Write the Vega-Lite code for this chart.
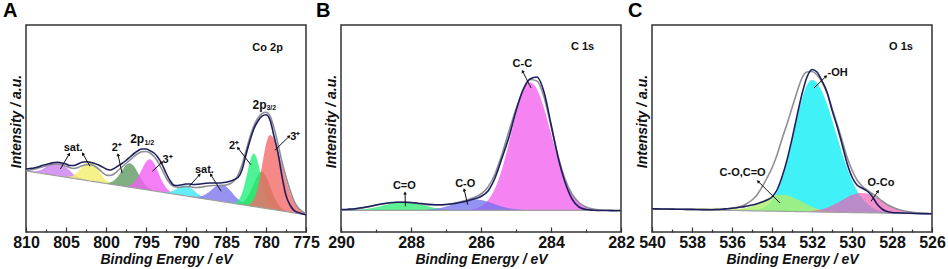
{
"$schema": "https://vega.github.io/schema/vega-lite/v6.json",
"background": "white",
"padding": {"left": 2, "top": 0, "right": 0, "bottom": 0},
"config": {"view": {"stroke": "#333333", "strokeWidth": 1.5}, "font": "Liberation Sans", "axis": {"grid": false},
 "axisX": {"labelPadding": 7, "titlePadding": 0},
 "axisY": {"ticks": false, "labels": false, "domain": false, "grid": false, "titleFontSize": 14, "titleFontWeight": "bold", "titleFontStyle": "italic", "titleColor": "#111111", "titlePadding": 3, "titleY": 96}},
"datasets": {
"a": [
{"x":810,"bg":61.0,"raw":63,"fit":61.5,"vi":61.1},
{"x":809.5,"bg":60.4,"raw":63.5,"fit":62,"vi":60.7},
{"x":809,"bg":59.8,"raw":64,"fit":62.8,"vi":60.7},
{"x":808.5,"bg":59.2,"raw":65,"fit":63.8,"vi":61.2},
{"x":808,"bg":58.5,"raw":66.5,"fit":65,"vi":62.6},
{"x":807.5,"bg":57.9,"raw":67.5,"fit":66,"vi":64.9},
{"x":807,"bg":57.3,"raw":68.5,"fit":67,"vi":67.6},
{"x":806.5,"bg":56.7,"raw":69.5,"fit":67.8,"vi":69.7},
{"x":806,"bg":56.0,"raw":69.7,"fit":68,"vi":70.0},
{"x":805.5,"bg":55.4,"raw":69,"fit":67.3,"vi":68.4,"ye":55.5},
{"x":805,"bg":54.8,"raw":68,"fit":65.8,"vi":65.1,"ye":55.2},
{"x":804.5,"bg":54.2,"raw":66.5,"fit":64.2,"vi":61.2,"ye":55.5},
{"x":804,"bg":53.5,"raw":66.5,"fit":63.5,"vi":57.6,"ye":56.9},
{"x":803.5,"bg":52.9,"raw":68,"fit":64.5,"vi":54.9,"ye":60.3},
{"x":803,"bg":52.3,"raw":69.8,"fit":66.2,"vi":53.2,"ye":65.1},
{"x":802.5,"bg":51.7,"raw":70.2,"fit":67.3,"vi":52.0,"ye":69.6},
{"x":802,"bg":51.0,"raw":69.8,"fit":67.5,"vi":51.1,"ye":71.0},
{"x":801.5,"bg":50.4,"raw":68.8,"fit":66.2,"ye":68.3},
{"x":801,"bg":49.8,"raw":67.2,"fit":63.5,"ye":62.6},
{"x":800.5,"bg":49.2,"raw":65.3,"fit":60,"ye":56.6,"gg":49.3},
{"x":800,"bg":48.5,"raw":63,"fit":57,"ye":51.9,"gg":48.9},
{"x":799.5,"bg":47.9,"raw":62,"fit":56.5,"ye":49.2,"gg":49.4},
{"x":799,"bg":47.3,"raw":63.5,"fit":58,"ye":47.7,"gg":51.4},
{"x":798.5,"bg":46.7,"raw":66,"fit":61.5,"ye":46.8,"gg":55.5},
{"x":798,"bg":46.0,"raw":68.5,"fit":65,"gg":61.4,"ma":46.1},
{"x":797.5,"bg":45.4,"raw":71.5,"fit":68.5,"gg":66.9,"ma":46.0},
{"x":797,"bg":44.8,"raw":75,"fit":72,"gg":68.8,"ma":46.7},
{"x":796.5,"bg":44.2,"raw":78.5,"fit":75.5,"gg":65.7,"ma":49.5},
{"x":796,"bg":43.5,"raw":81.3,"fit":78.5,"gg":58.9,"ma":54.9},
{"x":795.5,"bg":42.9,"raw":83,"fit":80.3,"gg":51.7,"ma":62.8},
{"x":795,"bg":42.3,"raw":83,"fit":80.5,"gg":46.4,"ma":70.0},
{"x":794.5,"bg":41.7,"raw":81.3,"fit":79,"gg":43.2,"ma":72.7},
{"x":794,"bg":41.0,"raw":79,"fit":75.5,"gg":41.4,"ma":68.7},
{"x":793.5,"bg":40.4,"raw":74.5,"fit":70,"gg":40.5,"ma":60.3},
{"x":793,"bg":39.8,"raw":68,"fit":62.5,"ma":51.2,"cy":40.0},
{"x":792.5,"bg":39.2,"raw":59,"fit":54.5,"ma":44.5,"cy":39.9},
{"x":792,"bg":38.5,"raw":51.5,"fit":48.5,"ma":40.4,"cy":40.3},
{"x":791.5,"bg":37.9,"raw":46.8,"fit":45.5,"ma":38.5,"cy":41.8},
{"x":791,"bg":37.3,"raw":46.5,"fit":44.8,"ma":37.4,"cy":44.0},
{"x":790.5,"bg":36.7,"raw":47.3,"fit":45,"cy":46.1},
{"x":790,"bg":36.0,"raw":48,"fit":45.5,"cy":46.5},
{"x":789.5,"bg":35.4,"raw":48,"fit":45.3,"cy":44.8,"bv":35.5},
{"x":789,"bg":34.8,"raw":47.5,"fit":44.5,"cy":41.5,"bv":35.2},
{"x":788.5,"bg":34.2,"raw":47.8,"fit":44.5,"cy":38.1,"bv":35.3},
{"x":788,"bg":33.5,"raw":48.2,"fit":45,"cy":35.3,"bv":36.0},
{"x":787.5,"bg":32.9,"raw":48.8,"fit":45.8,"cy":33.6,"bv":37.9},
{"x":787,"bg":32.3,"raw":49,"fit":46.3,"cy":32.5,"bv":40.8},
{"x":786.5,"bg":31.7,"raw":49,"fit":46.5,"bv":44.2},
{"x":786,"bg":31.0,"raw":49,"fit":46.5,"bv":46.7},
{"x":785.5,"bg":30.4,"raw":49.2,"fit":46.5,"bv":47.4},
{"x":785,"bg":29.8,"raw":49.8,"fit":47,"bv":45.5},
{"x":784.5,"bg":29.2,"raw":50.8,"fit":48.2,"bv":41.7,"bgr":29.3},
{"x":784,"bg":28.5,"raw":52.3,"fit":51,"bv":37.0,"bgr":29.2,"ol":28.7},
{"x":783.5,"bg":27.9,"raw":54.5,"fit":57,"bv":32.9,"bgr":31.2,"ol":28.6},
{"x":783,"bg":27.3,"raw":62,"fit":67,"bv":29.8,"bgr":38.4,"ol":29.6},
{"x":782.5,"bg":26.7,"raw":77.3,"fit":81,"bv":27.8,"bgr":53.2,"ol":32.8,"re":27.1},
{"x":782,"bg":26.0,"raw":91.5,"fit":95,"bv":26.4,"bgr":70.6,"ol":39.2,"re":28.1},
{"x":781.5,"bg":25.4,"raw":103.5,"fit":106.5,"bv":25.5,"bgr":78.4,"ol":48.5,"re":32.9},
{"x":781,"bg":24.8,"raw":111,"fit":114,"bgr":69.4,"ol":57.0,"re":45.2},
{"x":780.5,"bg":24.2,"raw":115.8,"fit":118.5,"bgr":50.7,"ol":60.2,"re":65.9},
{"x":780,"bg":23.5,"raw":117.3,"fit":119.7,"bgr":34.6,"ol":55.7,"re":87.6},
{"x":779.5,"bg":22.9,"raw":112,"fit":116,"bgr":26.2,"ol":46.0,"re":96.9},
{"x":779,"bg":22.3,"raw":95.7,"fit":104,"bgr":23.0,"ol":35.5,"re":92.5},
{"x":778.5,"bg":21.7,"raw":79,"fit":88,"bgr":21.8,"ol":27.8,"re":81.4},
{"x":778,"bg":21.0,"raw":55.5,"fit":70,"ol":23.3,"re":66.7},
{"x":777.5,"bg":20.4,"raw":36.5,"fit":55,"ol":21.1,"re":51.9},
{"x":777,"bg":19.8,"raw":27,"fit":42,"ol":20.0,"re":39.3},
{"x":776.5,"bg":19.2,"raw":21.7,"fit":31,"re":30.0},
{"x":776,"bg":18.5,"raw":19.5,"fit":24.5,"re":23.9},
{"x":775.5,"bg":17.9,"raw":18.2,"fit":20.5,"re":20.3},
{"x":775,"bg":17.3,"raw":17.3,"fit":18.5,"re":18.3}
],
"aL": [
{"x":804.1,"y":84,"t":"sat."},
{"x":798.65,"y":84,"t":"2⁺"},
{"x":792.3,"y":72.3,"t":"3⁺"},
{"x":787.7,"y":62.3,"t":"sat."},
{"x":784.0,"y":86.5,"t":"2⁺"},
{"x":776.35,"y":95,"t":"3⁺"},
{"x":779.8,"y":184.3,"t":"Co 2p"}
],
"aP": [
{"x":796.1,"y":93,"t":"2p"},
{"x":780.8,"y":127.3,"t":"2p"}
],
"aS": [
{"x":795.2,"y":89.5,"t":"1/2"},
{"x":779.95,"y":124,"t":"3/2"}
],
"aR": [
{"x":804.6,"y":78,"x2":805.7,"y2":63,"ang":30},
{"x":802.9,"y":78.3,"x2":802.0,"y2":65.7,"ang":-30},
{"x":798.5,"y":77.3,"x2":798.0,"y2":59,"ang":-12},
{"x":793.0,"y":69.7,"x2":794.2,"y2":60.7,"ang":47},
{"x":788.3,"y":57.3,"x2":789.6,"y2":45.7,"ang":42},
{"x":786.9,"y":57.3,"x2":785.6,"y2":40.7,"ang":-32},
{"x":783.5,"y":84,"x2":781.9,"y2":67.3,"ang":-37},
{"x":777.1,"y":95.7,"x2":778.9,"y2":81.7,"ang":46}
],
"b": [
{"x":290,"bg":21.7,"raw":22.5,"fit":22},
{"x":289.8,"bg":21.7,"raw":22.8,"fit":22.3,"gr":21.8},
{"x":289.6,"bg":21.7,"raw":23.3,"fit":22.8,"gr":22.0},
{"x":289.4,"bg":21.7,"raw":24.3,"fit":23.8,"gr":22.5},
{"x":289.2,"bg":21.7,"raw":25.5,"fit":25.2,"gr":23.4},
{"x":289,"bg":21.7,"raw":27,"fit":26.8,"gr":24.7},
{"x":288.8,"bg":21.7,"raw":28.3,"fit":28.3,"gr":26.4},
{"x":288.6,"bg":21.7,"raw":29.3,"fit":29.3,"gr":28.2},
{"x":288.4,"bg":21.7,"raw":29.8,"fit":29.8,"gr":29.7},
{"x":288.2,"bg":21.7,"raw":29.8,"fit":29.8,"gr":30.2},
{"x":288,"bg":21.7,"raw":29.5,"fit":29.3,"gr":29.7},
{"x":287.8,"bg":21.7,"raw":28.8,"fit":28.5,"gr":28.2,"bl":21.9},
{"x":287.6,"bg":21.7,"raw":28,"fit":27.5,"gr":26.4,"bl":22.1},
{"x":287.4,"bg":21.7,"raw":27.5,"fit":27,"gr":24.7,"bl":22.7},
{"x":287.2,"bg":21.7,"raw":27.3,"fit":27,"gr":23.4,"bl":23.8},
{"x":287,"bg":21.7,"raw":27.5,"fit":27.5,"gr":22.5,"bl":25.6},
{"x":286.8,"bg":21.7,"raw":28.3,"fit":28.5,"gr":22.0,"bl":27.8},
{"x":286.6,"bg":21.7,"raw":29.5,"fit":30,"gr":21.8,"bl":30.2,"mg":21.8},
{"x":286.4,"bg":21.7,"raw":31,"fit":32,"bl":32.0,"mg":22.1},
{"x":286.2,"bg":21.7,"raw":33,"fit":34.5,"bl":32.7,"mg":23.1},
{"x":286,"bg":21.7,"raw":35.5,"fit":38,"bl":32.0,"mg":25.7},
{"x":285.8,"bg":21.7,"raw":41,"fit":45,"bl":30.2,"mg":31.7},
{"x":285.6,"bg":21.7,"raw":54,"fit":58,"bl":27.8,"mg":43.5},
{"x":285.4,"bg":21.7,"raw":74,"fit":78,"bl":25.6,"mg":62.8},
{"x":285.2,"bg":21.7,"raw":95,"fit":101,"bl":23.8,"mg":89.3},
{"x":285,"bg":21.7,"raw":121,"fit":123,"bl":22.7,"mg":118.1},
{"x":284.8,"bg":21.7,"raw":142,"fit":142,"bl":22.1,"mg":141.0},
{"x":284.6,"bg":21.7,"raw":153,"fit":152.5,"bl":21.9,"mg":149.7},
{"x":284.4,"bg":21.7,"raw":155,"fit":151,"mg":142.7},
{"x":284.2,"bg":21.7,"raw":140,"fit":135,"mg":123.7},
{"x":284,"bg":21.7,"raw":108,"fit":106,"mg":98.6},
{"x":283.8,"bg":21.7,"raw":75,"fit":76,"mg":73.5},
{"x":283.6,"bg":21.7,"raw":50,"fit":53,"mg":52.8},
{"x":283.4,"bg":21.7,"raw":33,"fit":38,"mg":38.3},
{"x":283.2,"bg":21.7,"raw":25,"fit":29.5,"mg":29.7},
{"x":283,"bg":21.7,"raw":22.5,"fit":25,"mg":25.2},
{"x":282.8,"bg":21.7,"raw":21.8,"fit":23,"mg":23.0},
{"x":282.6,"bg":21.7,"raw":21.5,"fit":22,"mg":22.2},
{"x":282.4,"bg":21.7,"raw":21.5,"fit":21.7,"mg":21.8},
{"x":282.2,"bg":21.7,"raw":21.3,"fit":21.6},
{"x":282,"bg":21.7,"raw":21.5,"fit":21.5}
],
"bL": [
{"x":288.19,"y":45.7,"t":"C=O"},
{"x":286.45,"y":48.5,"t":"C-O"},
{"x":284.82,"y":168.5,"t":"C-C"},
{"x":283.1,"y":185,"t":"C 1s"}
],
"bR": [
{"x":288.17,"y":39,"x2":288.16,"y2":25.7,"ang":0},
{"x":286.48,"y":42.3,"x2":286.38,"y2":27.3,"ang":-13},
{"x":284.81,"y":160.7,"x2":284.57,"y2":144,"ang":-27}
],
"c": [
{"x":540,"bg":23.0,"raw":23.2,"fit":23.0},
{"x":539.5,"bg":22.8,"raw":23.0,"fit":22.9,"yl":23.0},
{"x":539,"bg":22.6,"raw":22.9,"fit":22.8,"yl":23.0},
{"x":538.5,"bg":22.5,"raw":22.7,"fit":22.7,"yl":23.1},
{"x":538,"bg":22.3,"raw":22.6,"fit":22.6,"yl":23.55},
{"x":537.5,"bg":22.1,"raw":22.4,"fit":22.5,"yl":23.9},
{"x":537,"bg":21.9,"raw":22.3,"fit":22.5,"yl":24.2},
{"x":536.75,"bg":21.8,"raw":22.5,"fit":22.6,"yl":24.3},
{"x":536.5,"bg":21.75,"raw":22.8,"fit":22.8,"yl":24.3,"lg":21.9},
{"x":536.25,"bg":21.7,"raw":23.3,"fit":23.2,"yl":24.1,"lg":22.0},
{"x":536,"bg":21.6,"raw":23.8,"fit":23.8,"yl":23.9,"lg":22.2},
{"x":535.75,"bg":21.5,"raw":24.3,"fit":24.8,"yl":23.6,"lg":22.7},
{"x":535.5,"bg":21.4,"raw":25,"fit":26,"yl":23.2,"lg":23.4},
{"x":535.25,"bg":21.3,"raw":26,"fit":28.5,"yl":22.8,"lg":24.6},
{"x":535,"bg":21.2,"raw":27,"fit":32,"yl":22.45,"lg":26.3,"cy":21.7},
{"x":534.75,"bg":21.1,"raw":28.3,"fit":37,"yl":22.1,"lg":28.5,"cy":22.2},
{"x":534.5,"bg":21.0,"raw":30,"fit":45,"yl":21.7,"lg":30.9,"cy":23.6},
{"x":534.25,"bg":20.95,"raw":32,"fit":54,"yl":21.5,"lg":33.3,"cy":26.4},
{"x":534,"bg":20.9,"raw":35,"fit":64,"yl":21.3,"lg":35.5,"cy":31.6},
{"x":533.75,"bg":20.8,"raw":42,"fit":77,"yl":21.0,"lg":36.9,"cy":39.9},
{"x":533.5,"bg":20.7,"raw":55,"fit":93,"yl":20.8,"lg":37.3,"cy":52.6},
{"x":533.25,"bg":20.6,"raw":72,"fit":108,"lg":36.8,"cy":70.0},
{"x":533,"bg":20.5,"raw":93,"fit":124,"lg":35.1,"cy":90.8},
{"x":532.75,"bg":20.4,"raw":116,"fit":140,"lg":32.8,"cy":112.9},
{"x":532.5,"bg":20.35,"raw":138,"fit":154,"lg":30.2,"cy":133.0,"pk":20.6},
{"x":532.25,"bg":20.25,"raw":155,"fit":160,"lg":27.6,"cy":146.9,"pk":20.7},
{"x":532,"bg":20.1,"raw":162.5,"fit":160.5,"lg":25.2,"cy":151.9,"pk":21.1},
{"x":531.75,"bg":20.0,"raw":160,"fit":157,"lg":23.3,"cy":148.9,"pk":21.7},
{"x":531.5,"bg":19.95,"raw":151,"fit":150,"lg":22.0,"cy":140.5,"pk":22.8},
{"x":531.25,"bg":19.85,"raw":140,"fit":139,"lg":21.0,"cy":127.9,"pk":24.3},
{"x":531,"bg":19.8,"raw":122,"fit":124,"lg":20.4,"cy":112.3,"pk":26.5},
{"x":530.75,"bg":19.7,"raw":106,"fit":108,"lg":20.0,"cy":95.5,"pk":29.0},
{"x":530.5,"bg":19.6,"raw":88,"fit":92,"lg":19.75,"cy":79.0,"pk":31.8},
{"x":530.25,"bg":19.5,"raw":69,"fit":75,"cy":64.2,"pk":34.6},
{"x":530,"bg":19.4,"raw":55,"fit":62,"cy":51.4,"pk":36.9},
{"x":529.75,"bg":19.35,"raw":47,"fit":52,"cy":41.3,"pk":38.5},
{"x":529.5,"bg":19.25,"raw":44,"fit":46,"cy":33.7,"pk":39.0},
{"x":529.25,"bg":19.15,"raw":41,"fit":42,"cy":28.3,"pk":38.4},
{"x":529,"bg":19.1,"raw":36,"fit":38.5,"cy":24.6,"pk":36.6},
{"x":528.75,"bg":19.0,"raw":28,"fit":35,"cy":22.2,"pk":34.1},
{"x":528.5,"bg":18.9,"raw":23,"fit":31,"cy":20.6,"pk":31.1},
{"x":528.25,"bg":18.8,"raw":20.5,"fit":27.5,"cy":19.7,"pk":28.1},
{"x":528,"bg":18.7,"raw":19.5,"fit":25,"cy":19.2,"pk":25.4},
{"x":527.75,"bg":18.6,"raw":19.2,"fit":23,"pk":23.1},
{"x":527.5,"bg":18.55,"raw":19,"fit":21.5,"pk":21.4},
{"x":527,"bg":18.4,"raw":18.7,"fit":19.8,"pk":19.4},
{"x":526.5,"bg":18.2,"raw":18.4,"fit":18.8,"pk":18.5},
{"x":526,"bg":18.0,"raw":18.2,"fit":18.3}
],
"cL": [
{"x":530.72,"y":159.5,"t":"-OH"},
{"x":535.47,"y":59,"t":"C-O,C=O"},
{"x":528.55,"y":49,"t":"O-Co"},
{"x":527.55,"y":185,"t":"O 1s"}
],
"cR": [
{"x":531.3,"y":155.7,"x2":531.9,"y2":144,"ang":46},
{"x":534.7,"y":50.7,"x2":533.6,"y2":29,"ang":-45},
{"x":528.7,"y":40.7,"x2":529.05,"y2":30.7,"ang":35}
]
},
"spacing": 35,
"bounds": "flush",
"hconcat": [
{
"width": 280, "height": 207,
"title": {"text": "A", "anchor": "start", "frame": "group", "dx": -23, "offset": 4, "fontSize": 20, "fontWeight": "bold", "color": "#000000", "font": "Liberation Sans"},
"encoding": {"x": {"field": "x", "type": "quantitative", "scale": {"domain": [775, 810], "reverse": true, "nice": false, "zero": false},
 "axis": {"title": "Binding Energy / eV", "values": [810,807.5,805,802.5,800,797.5,795,792.5,790,787.5,785,782.5,780,777.5,775], "labelExpr": "datum.value % 5 == 0 ? datum.label : ''", "tickSize": {"condition": {"test": "datum.value % 5 == 0", "value": -5}, "value": -3}, "tickColor": "#333333", "tickWidth": 1.2, "domain": false, "labelFontSize": 16, "labelFontWeight": "bold", "labelColor": "#111111", "labelFlush": false, "labelOverlap": false, "labelBound": false, "titleFontSize": 14, "titleFontWeight": "bold", "titleFontStyle": "italic", "titleColor": "#111111"}}},
"layer": [
{"data": {"name": "a"}, "mark": {"type": "area", "interpolate": "monotone", "color": "#cc7ff0", "opacity": 0.8}, "encoding": {"y": {"field": "vi", "type": "quantitative", "scale": {"domain": [0, 207], "nice": false}, "axis": {"title": "Intensity / a.u."}}, "y2": {"field": "bg"}}},
{"data": {"name": "a"}, "mark": {"type": "area", "interpolate": "monotone", "color": "#f3f06a", "opacity": 0.8}, "encoding": {"y": {"field": "ye", "type": "quantitative", "scale": {"domain": [0, 207], "nice": false}, "axis": {"title": "Intensity / a.u."}}, "y2": {"field": "bg"}}},
{"data": {"name": "a"}, "mark": {"type": "area", "interpolate": "monotone", "color": "#5f9a62", "opacity": 0.8}, "encoding": {"y": {"field": "gg", "type": "quantitative", "scale": {"domain": [0, 207], "nice": false}, "axis": {"title": "Intensity / a.u."}}, "y2": {"field": "bg"}}},
{"data": {"name": "a"}, "mark": {"type": "area", "interpolate": "monotone", "color": "#f15ef2", "opacity": 0.8}, "encoding": {"y": {"field": "ma", "type": "quantitative", "scale": {"domain": [0, 207], "nice": false}, "axis": {"title": "Intensity / a.u."}}, "y2": {"field": "bg"}}},
{"data": {"name": "a"}, "mark": {"type": "area", "interpolate": "monotone", "color": "#3fe9f5", "opacity": 0.8}, "encoding": {"y": {"field": "cy", "type": "quantitative", "scale": {"domain": [0, 207], "nice": false}, "axis": {"title": "Intensity / a.u."}}, "y2": {"field": "bg"}}},
{"data": {"name": "a"}, "mark": {"type": "area", "interpolate": "monotone", "color": "#7d77ee", "opacity": 0.8}, "encoding": {"y": {"field": "bv", "type": "quantitative", "scale": {"domain": [0, 207], "nice": false}, "axis": {"title": "Intensity / a.u."}}, "y2": {"field": "bg"}}},
{"data": {"name": "a"}, "mark": {"type": "area", "interpolate": "monotone", "color": "#5aa832", "opacity": 0.85}, "encoding": {"y": {"field": "ol", "type": "quantitative", "scale": {"domain": [0, 207], "nice": false}, "axis": {"title": "Intensity / a.u."}}, "y2": {"field": "bg"}}},
{"data": {"name": "a"}, "mark": {"type": "area", "interpolate": "monotone", "color": "#22f07a", "opacity": 0.8}, "encoding": {"y": {"field": "bgr", "type": "quantitative", "scale": {"domain": [0, 207], "nice": false}, "axis": {"title": "Intensity / a.u."}}, "y2": {"field": "bg"}}},
{"data": {"name": "a"}, "mark": {"type": "area", "interpolate": "monotone", "color": "#f46a6a", "opacity": 0.8}, "encoding": {"y": {"field": "re", "type": "quantitative", "scale": {"domain": [0, 207], "nice": false}, "axis": {"title": "Intensity / a.u."}}, "y2": {"field": "bg"}}},
{"data": {"name": "a"}, "mark": {"type": "line", "color": "#a0a0a0", "strokeWidth": 1.2}, "encoding": {"y": {"field": "bg", "type": "quantitative", "scale": {"domain": [0, 207], "nice": false}, "axis": {"title": "Intensity / a.u."}}}},
{"data": {"name": "a"}, "mark": {"type": "line", "interpolate": "monotone", "color": "#8e8e96", "strokeWidth": 1.6}, "encoding": {"y": {"field": "fit", "type": "quantitative", "scale": {"domain": [0, 207], "nice": false}, "axis": {"title": "Intensity / a.u."}}}},
{"data": {"name": "a"}, "mark": {"type": "line", "interpolate": "monotone", "color": "#1e205e", "strokeWidth": 1.6}, "encoding": {"y": {"field": "raw", "type": "quantitative", "scale": {"domain": [0, 207], "nice": false}, "axis": {"title": "Intensity / a.u."}}}},
{"data": {"name": "aR"}, "mark": {"type": "rule", "color": "#111111", "strokeWidth": 1}, "encoding": {"y": {"field": "y", "type": "quantitative", "scale": {"domain": [0, 207], "nice": false}, "axis": {"title": "Intensity / a.u."}}, "x2": {"field": "x2"}, "y2": {"field": "y2"}}},
{"data": {"name": "aR"}, "mark": {"type": "point", "shape": "triangle-up", "filled": true, "color": "#111111", "size": 13, "opacity": 1}, "encoding": {"y": {"field": "y", "type": "quantitative", "scale": {"domain": [0, 207], "nice": false}, "axis": {"title": "Intensity / a.u."}}, "angle": {"field": "ang", "type": "quantitative", "scale": null}}},
{"data": {"name": "aL"}, "mark": {"type": "text", "fontSize": 11, "fontWeight": "bold", "color": "#111111", "align": "center", "baseline": "middle"}, "encoding": {"y": {"field": "y", "type": "quantitative", "scale": {"domain": [0, 207], "nice": false}, "axis": {"title": "Intensity / a.u."}}, "text": {"field": "t"}}},
{"data": {"name": "aP"}, "mark": {"type": "text", "fontSize": 12, "fontWeight": "bold", "color": "#111111", "align": "center", "baseline": "middle"}, "encoding": {"y": {"field": "y", "type": "quantitative", "scale": {"domain": [0, 207], "nice": false}, "axis": {"title": "Intensity / a.u."}}, "text": {"field": "t"}}},
{"data": {"name": "aS"}, "mark": {"type": "text", "fontSize": 7, "fontWeight": "bold", "color": "#111111", "align": "left", "baseline": "middle"}, "encoding": {"y": {"field": "y", "type": "quantitative", "scale": {"domain": [0, 207], "nice": false}, "axis": {"title": "Intensity / a.u."}}, "text": {"field": "t"}}}
]
},
{
"spacing": 31,
"bounds": "flush",
"hconcat": [
{
"width": 280, "height": 207,
"title": {"text": "B", "anchor": "start", "frame": "group", "dx": -25, "offset": 4, "fontSize": 20, "fontWeight": "bold", "color": "#000000", "font": "Liberation Sans"},
"encoding": {"x": {"field": "x", "type": "quantitative", "scale": {"domain": [282, 290], "reverse": true, "nice": false, "zero": false},
 "axis": {"title": "Binding Energy / eV", "values": [290,289,288,287,286,285,284,283,282], "labelExpr": "datum.value % 2 == 0 ? datum.label : ''", "tickSize": {"condition": {"test": "datum.value % 2 == 0", "value": -5}, "value": -3}, "tickColor": "#333333", "tickWidth": 1.2, "domain": false, "labelFontSize": 16, "labelFontWeight": "bold", "labelColor": "#111111", "labelFlush": false, "labelOverlap": false, "labelBound": false, "titleFontSize": 14, "titleFontWeight": "bold", "titleFontStyle": "italic", "titleColor": "#111111"}}},
"layer": [
{"data": {"name": "b"}, "mark": {"type": "area", "interpolate": "monotone", "color": "#33ee77", "opacity": 0.8}, "encoding": {"y": {"field": "gr", "type": "quantitative", "scale": {"domain": [0, 207], "nice": false}, "axis": {"title": "Intensity / a.u."}}, "y2": {"field": "bg"}}},
{"data": {"name": "b"}, "mark": {"type": "area", "interpolate": "monotone", "color": "#f36ef0", "opacity": 0.85}, "encoding": {"y": {"field": "mg", "type": "quantitative", "scale": {"domain": [0, 207], "nice": false}, "axis": {"title": "Intensity / a.u."}}, "y2": {"field": "bg"}}},
{"data": {"name": "b"}, "mark": {"type": "area", "interpolate": "monotone", "color": "#6f6ff0", "opacity": 0.75}, "encoding": {"y": {"field": "bl", "type": "quantitative", "scale": {"domain": [0, 207], "nice": false}, "axis": {"title": "Intensity / a.u."}}, "y2": {"field": "bg"}}},
{"data": {"name": "b"}, "mark": {"type": "line", "color": "#a0a0a0", "strokeWidth": 1.2}, "encoding": {"y": {"field": "bg", "type": "quantitative", "scale": {"domain": [0, 207], "nice": false}, "axis": {"title": "Intensity / a.u."}}}},
{"data": {"name": "b"}, "mark": {"type": "line", "interpolate": "monotone", "color": "#8e8e96", "strokeWidth": 1.6}, "encoding": {"y": {"field": "fit", "type": "quantitative", "scale": {"domain": [0, 207], "nice": false}, "axis": {"title": "Intensity / a.u."}}}},
{"data": {"name": "b"}, "mark": {"type": "line", "interpolate": "monotone", "color": "#1e205e", "strokeWidth": 1.6}, "encoding": {"y": {"field": "raw", "type": "quantitative", "scale": {"domain": [0, 207], "nice": false}, "axis": {"title": "Intensity / a.u."}}}},
{"data": {"name": "bR"}, "mark": {"type": "rule", "color": "#111111", "strokeWidth": 1}, "encoding": {"y": {"field": "y", "type": "quantitative", "scale": {"domain": [0, 207], "nice": false}, "axis": {"title": "Intensity / a.u."}}, "x2": {"field": "x2"}, "y2": {"field": "y2"}}},
{"data": {"name": "bR"}, "mark": {"type": "point", "shape": "triangle-up", "filled": true, "color": "#111111", "size": 13, "opacity": 1}, "encoding": {"y": {"field": "y", "type": "quantitative", "scale": {"domain": [0, 207], "nice": false}, "axis": {"title": "Intensity / a.u."}}, "angle": {"field": "ang", "type": "quantitative", "scale": null}}},
{"data": {"name": "bL"}, "mark": {"type": "text", "fontSize": 11, "fontWeight": "bold", "color": "#111111", "align": "center", "baseline": "middle"}, "encoding": {"y": {"field": "y", "type": "quantitative", "scale": {"domain": [0, 207], "nice": false}, "axis": {"title": "Intensity / a.u."}}, "text": {"field": "t"}}}
]
},
{
"width": 280, "height": 207,
"title": {"text": "C", "anchor": "start", "frame": "group", "dx": -24, "offset": 4, "fontSize": 20, "fontWeight": "bold", "color": "#000000", "font": "Liberation Sans"},
"encoding": {"x": {"field": "x", "type": "quantitative", "scale": {"domain": [526, 540], "reverse": true, "nice": false, "zero": false},
 "axis": {"title": "Binding Energy / eV", "values": [540,539,538,537,536,535,534,533,532,531,530,529,528,527,526], "labelExpr": "datum.value % 2 == 0 ? datum.label : ''", "tickSize": {"condition": {"test": "datum.value % 2 == 0", "value": -5}, "value": -3}, "tickColor": "#333333", "tickWidth": 1.2, "domain": false, "labelFontSize": 16, "labelFontWeight": "bold", "labelColor": "#111111", "labelFlush": false, "labelOverlap": false, "labelBound": false, "titleFontSize": 14, "titleFontWeight": "bold", "titleFontStyle": "italic", "titleColor": "#111111"}}},
"layer": [
{"data": {"name": "c"}, "mark": {"type": "area", "interpolate": "monotone", "color": "#f2eea0", "opacity": 0.8}, "encoding": {"y": {"field": "yl", "type": "quantitative", "scale": {"domain": [0, 207], "nice": false}, "axis": {"title": "Intensity / a.u."}}, "y2": {"field": "bg"}}},
{"data": {"name": "c"}, "mark": {"type": "area", "interpolate": "monotone", "color": "#1eeef6", "opacity": 0.85}, "encoding": {"y": {"field": "cy", "type": "quantitative", "scale": {"domain": [0, 207], "nice": false}, "axis": {"title": "Intensity / a.u."}}, "y2": {"field": "bg"}}},
{"data": {"name": "c"}, "mark": {"type": "area", "interpolate": "monotone", "color": "#aef06a", "opacity": 0.8}, "encoding": {"y": {"field": "lg", "type": "quantitative", "scale": {"domain": [0, 207], "nice": false}, "axis": {"title": "Intensity / a.u."}}, "y2": {"field": "bg"}}},
{"data": {"name": "c"}, "mark": {"type": "area", "interpolate": "monotone", "color": "#ee5fb5", "opacity": 0.7}, "encoding": {"y": {"field": "pk", "type": "quantitative", "scale": {"domain": [0, 207], "nice": false}, "axis": {"title": "Intensity / a.u."}}, "y2": {"field": "bg"}}},
{"data": {"name": "c"}, "mark": {"type": "line", "color": "#a0a0a0", "strokeWidth": 1.2}, "encoding": {"y": {"field": "bg", "type": "quantitative", "scale": {"domain": [0, 207], "nice": false}, "axis": {"title": "Intensity / a.u."}}}},
{"data": {"name": "c"}, "mark": {"type": "line", "interpolate": "monotone", "color": "#8e8e96", "strokeWidth": 1.6}, "encoding": {"y": {"field": "fit", "type": "quantitative", "scale": {"domain": [0, 207], "nice": false}, "axis": {"title": "Intensity / a.u."}}}},
{"data": {"name": "c"}, "mark": {"type": "line", "interpolate": "monotone", "color": "#1e205e", "strokeWidth": 1.6}, "encoding": {"y": {"field": "raw", "type": "quantitative", "scale": {"domain": [0, 207], "nice": false}, "axis": {"title": "Intensity / a.u."}}}},
{"data": {"name": "cR"}, "mark": {"type": "rule", "color": "#111111", "strokeWidth": 1}, "encoding": {"y": {"field": "y", "type": "quantitative", "scale": {"domain": [0, 207], "nice": false}, "axis": {"title": "Intensity / a.u."}}, "x2": {"field": "x2"}, "y2": {"field": "y2"}}},
{"data": {"name": "cR"}, "mark": {"type": "point", "shape": "triangle-up", "filled": true, "color": "#111111", "size": 13, "opacity": 1}, "encoding": {"y": {"field": "y", "type": "quantitative", "scale": {"domain": [0, 207], "nice": false}, "axis": {"title": "Intensity / a.u."}}, "angle": {"field": "ang", "type": "quantitative", "scale": null}}},
{"data": {"name": "cL"}, "mark": {"type": "text", "fontSize": 11, "fontWeight": "bold", "color": "#111111", "align": "center", "baseline": "middle"}, "encoding": {"y": {"field": "y", "type": "quantitative", "scale": {"domain": [0, 207], "nice": false}, "axis": {"title": "Intensity / a.u."}}, "text": {"field": "t"}}}
]
}
]
}
]
}
